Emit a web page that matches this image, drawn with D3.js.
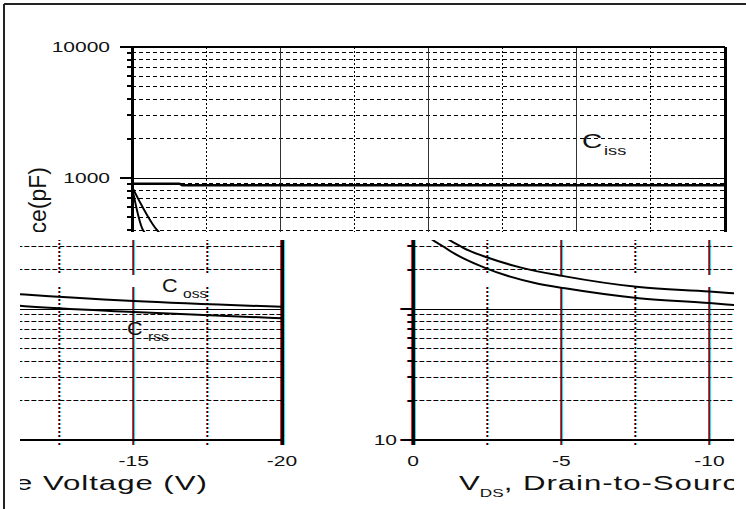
<!DOCTYPE html>
<html lang="en">
<head>
<meta charset="UTF-8">
<title>capacitance</title>
<script src="https://cdn.jsdelivr.net/npm/d3@7"></script>
<style>
    body { margin: 0; background: #fff; }
    text { font-family: "Liberation Sans", Arial, sans-serif; fill: #111; }
</style>
</head>
<body>
<div id="chart"></div>
<script>
var width = 746, height = 509;

// axis ticks
var vTicks = [0, -5, -10, -15, -20];
var vTickLabels = ["0", "-5", "-10", "-15", "-20"];
var vMinor = [-2.5, -7.5, -12.5, -17.5];
var cTicks = [10, 100, 1000, 10000];
var cTickLabels = ["10", "", "1000", "10000"];

// curves (V, pF)
var cissV = [0, -1.6, -1.7, -20];
var cissC = [905, 905, 882, 882];
var cossV = [0, -0.84, -1.65, -2.56, -3.68, -5.03, -7.62, -10, -11.33, -15, -20];
var cossC = [860, 401, 297, 245, 206, 179, 147, 136, 129, 115, 104];
var crssV = [0, -0.37, -1.05, -2.43, -4.11, -5.13, -7.62, -10, -11.33, -15, -20];
var crssC = [860, 401, 297, 206, 158, 144, 121, 111, 105, 95, 85];

var x = d3.scaleLinear().domain([0, -20]).range([132, 725]);
var y = d3.scaleLog().domain([10, 10000]).range([440, 47]);

var svg = d3.select("#chart").append("svg")
    .attr("width", width)
    .attr("height", height);

function isPow10(v) { return Math.abs(Math.log10(v) - Math.round(Math.log10(v))) < 1e-9; }

function label(g, px, py, s, size, sx, anchor) {
    return g.append("text")
        .attr("transform", "translate(" + px + "," + py + ") scale(" + sx + ",1)")
        .attr("text-anchor", anchor)
        .attr("font-size", size)
        .text(s);
}

function drawChart(g, col, linesOnly) {
    var stroke = col || "#000";
    var gap = [275, 287];
    var lg = g.append("g").attr("shape-rendering", "crispEdges");

    //minor horizontal grid
    lg.selectAll(".hmin").data(y.ticks().filter(function (d) { return !isPow10(d); }))
        .enter().append("line")
        .attr("x1", x(0)).attr("x2", x(-20))
        .attr("y1", function (d) { return y(d); }).attr("y2", function (d) { return y(d); })
        .attr("stroke", stroke).attr("stroke-width", 1).attr("stroke-dasharray", "4,3");
    //major horizontal grid
    lg.selectAll(".hmaj").data([100, 1000]).enter().append("line")
        .attr("x1", x(0)).attr("x2", x(-20))
        .attr("y1", function (d) { return y(d); }).attr("y2", function (d) { return y(d); })
        .attr("stroke", stroke).attr("stroke-width", 1);

    //vertical grid, broken by a gap
    var segs = [[y(10000), gap[0]], [gap[1], y(10) + 5]];
    segs.forEach(function (s) {
        lg.selectAll(null).data(vMinor).enter().append("line")
            .attr("x1", function (d) { return x(d); }).attr("x2", function (d) { return x(d); })
            .attr("y1", s[0]).attr("y2", s[1])
            .attr("stroke", stroke).attr("stroke-width", 1).attr("stroke-dasharray", "2,2");
        lg.selectAll(null).data([-5, -10, -15]).enter().append("line")
            .attr("x1", function (d) { return x(d); }).attr("x2", function (d) { return x(d); })
            .attr("y1", s[0]).attr("y2", s[1])
            .attr("stroke", col || "#333").attr("stroke-width", 1);
    });

    //frame
    lg.append("line").attr("x1", x(0)).attr("x2", x(-20)).attr("y1", y(10000)).attr("y2", y(10000))
        .attr("stroke", stroke).attr("stroke-width", 2);
    lg.append("line").attr("x1", x(0)).attr("x2", x(-20)).attr("y1", y(10)).attr("y2", y(10))
        .attr("stroke", stroke).attr("stroke-width", 2);
    lg.append("line").attr("x1", x(-20)).attr("x2", x(-20)).attr("y1", y(10000)).attr("y2", y(10) + 5)
        .attr("stroke", stroke).attr("stroke-width", 3);
    lg.append("line").attr("x1", x(0)).attr("x2", x(0)).attr("y1", y(10000)).attr("y2", y(10) + 5)
        .attr("stroke", stroke).attr("stroke-width", 3);

    //y ticks
    lg.selectAll(".ymaj").data(cTicks).enter().append("line")
        .attr("x1", x(0) - 12).attr("x2", x(0))
        .attr("y1", function (d) { return y(d); }).attr("y2", function (d) { return y(d); })
        .attr("stroke", stroke).attr("stroke-width", 2);
    lg.selectAll(".ymin").data(y.ticks().filter(function (d) { return !isPow10(d); }))
        .enter().append("line")
        .attr("x1", x(0) - 5).attr("x2", x(0))
        .attr("y1", function (d) { return y(d); }).attr("y2", function (d) { return y(d); })
        .attr("stroke", stroke).attr("stroke-width", 2);

    if (linesOnly) return;

    //curves
    var line = d3.line().curve(d3.curveMonotoneX);
    [[cissV, cissC, 2.5], [cossV, cossC, 2], [crssV, crssC, 2]].forEach(function (c) {
        var pts = c[0].map(function (v, i) { return [x(v), y(c[1][i])]; });
        g.append("path").attr("d", line(pts))
            .attr("fill", "none").attr("stroke", "#000").attr("stroke-width", c[2]);
    });

    //tick labels (the lowest one sits a bit further right)
    cTicks.forEach(function (d, i) {
        label(g, d === 10 ? 116 : 110, y(d) + 5, cTickLabels[i], 14, 1.5, "end");
    });
    vTicks.forEach(function (d, i) {
        label(g, x(d), 466, vTickLabels[i], 14, 1.5, "middle");
    });

    //curve labels
    label(g, 582, 148, "C", 20, 1.4, "start");
    label(g, 604, 155, "iss", 13, 1.4, "start");
    label(g, 605, 292, "C", 18, 1.2, "start");
    label(g, 626, 298, "oss", 12, 1.3, "start");
    label(g, 570, 335, "C", 18, 1.2, "start");
    label(g, 591, 341, "rss", 12, 1.3, "start");

    //axis titles
    var t = g.append("text").attr("font-size", 20).attr("x", 0).attr("y", 0);
    t.append("tspan").text("V");
    t.append("tspan").attr("font-size", 11).attr("dy", 7).text("DS");
    t.append("tspan").attr("dy", -7).attr("letter-spacing", 0.6).text(", Drain-to-Source Voltage (V)");
    var len = t.node().getComputedTextLength();
    t.attr("transform", "translate(178,490) scale(" + (473 / len) + ",1)");

    g.append("text").attr("font-size", 23).attr("text-anchor", "end")
        .attr("transform", "translate(46,167) rotate(-90)")
        .text("Capacitance(pF)");
}

//outer frame
svg.append("line").attr("x1", 4).attr("x2", width).attr("y1", 4).attr("y2", 4)
    .attr("stroke", "#222").attr("stroke-width", 2);
svg.append("line").attr("x1", 4).attr("x2", 4).attr("y1", 4).attr("y2", height)
    .attr("stroke", "#222").attr("stroke-width", 2);

//chart pieces: clip box and shift
var panels = [
    {clip: [0, 0, 746, 232], dx: 0, fringe: false},
    {clip: [20, 240, 280, 269], dx: -443, fringe: true},
    {clip: [373, 240, 361, 269], dx: 281, fringe: true}
];
var defs = svg.append("defs");
panels.forEach(function (p, i) {
    defs.append("clipPath").attr("id", "clip" + i)
        .append("rect").attr("x", p.clip[0]).attr("y", p.clip[1])
        .attr("width", p.clip[2]).attr("height", p.clip[3]);
    var outer = svg.append("g").attr("clip-path", "url(#clip" + i + ")");
    if (p.fringe) {
        drawChart(outer.append("g").attr("transform", "translate(" + (p.dx - 1) + ",0)"), "#ff2020", true);
        drawChart(outer.append("g").attr("transform", "translate(" + (p.dx + 1) + ",0)"), "#20e0ff", true);
    }
    drawChart(outer.append("g").attr("transform", "translate(" + p.dx + ",0)"), null, false);
});
</script>
</body>
</html>
